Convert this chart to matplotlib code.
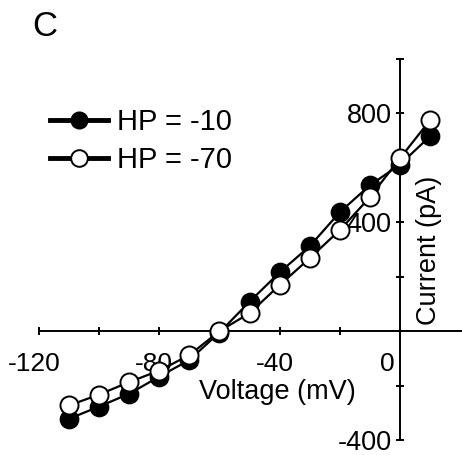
import matplotlib
matplotlib.use("Agg")
import matplotlib.pyplot as plt
import matplotlib.transforms as mtransforms
from matplotlib.lines import Line2D

plt.rcParams['font.family'] = ['Liberation Sans', 'DejaVu Sans']

# data
voltage = [-110, -100, -90, -80, -70, -60, -50, -40, -30, -20, -10, 0, 10]
hp_10 = [-322, -277, -230, -167, -106, -5, 108, 216, 312, 437, 536, 612, 716]
hp_70 = [-273, -233, -187, -145, -88, 0, 66, 169, 268, 371, 492, 635, 775]

x_major = [-120, -80, -40, 0]
x_minor = [-100, -60, -20]
y_major = [-400, 0, 400, 800]
y_major_labels = ['-400', '', '400', '800']
y_minor = [-200, 200, 600, 1000]

fig = plt.figure(figsize=(4.62, 4.55), dpi=100)
ax = fig.add_axes([39 / 462, 15 / 455, 422 / 462, 381 / 455])

ax.plot(voltage, hp_10, color='black', lw=1.6, marker='o', ms=13,
        mfc='black', mec='black', mew=1.2, clip_on=False, zorder=3)
ax.plot(voltage, hp_70, color='black', lw=1.6, marker='o', ms=13,
        mfc='white', mec='black', mew=1.4, clip_on=False, zorder=4)

ax.set_xlim(-120, 20.3)
ax.set_ylim(-400, 1000)

ax.spines['left'].set_position(('data', 0))
ax.spines['bottom'].set_position(('data', 0))
ax.spines['top'].set_visible(False)
ax.spines['right'].set_visible(False)
for s in ['left', 'bottom']:
    ax.spines[s].set_linewidth(1.4)

ax.set_xticks(x_major)
ax.set_xticklabels([str(v) for v in x_major])
ax.set_xticks(x_minor, minor=True)
ax.set_yticks(y_major)
ax.set_yticklabels(y_major_labels)
ax.set_yticks(y_minor, minor=True)

ax.tick_params(which='both', direction='inout', length=6, width=1.4)
ax.tick_params(axis='x', labelsize=19, pad=12)
ax.tick_params(axis='y', labelsize=19.5, pad=3)

# labels sit a little left of their ticks, "0" more so
for lab in ax.get_xticklabels():
    dx = -13 if lab.get_text() == '0' else -5
    off = mtransforms.ScaledTranslation(dx / 100, 0, fig.dpi_scale_trans)
    lab.set_transform(lab.get_transform() + off)

ax.set_xlabel('Voltage (mV)', fontsize=19.5)
ax.xaxis.set_label_coords(0.566, 0.127)
ax.xaxis.label.set_va('center')
ax.set_ylabel('Current (pA)', fontsize=19.5)
ax.yaxis.set_label_coords(0.925, 0.499)
ax.yaxis.label.set_va('center')

handles = [
    Line2D([], [], color='black', lw=3.5, marker='o', ms=12, mfc='black', mec='black'),
    Line2D([], [], color='black', lw=3.5, marker='o', ms=12, mfc='white', mec='black', mew=1.4),
]
fig.legend(handles, ['HP = -10', 'HP = -70'], loc='upper left',
           bbox_to_anchor=(50 / 462, 1 - 108 / 455), frameon=False,
           fontsize=21, handlelength=2.0, handletextpad=0.3, labelspacing=0.35,
           borderpad=0, borderaxespad=0)

fig.text(32 / 462, 1 - 27 / 455, 'C', fontsize=25, va='center', ha='left')

fig.savefig('out.png', dpi=100)
